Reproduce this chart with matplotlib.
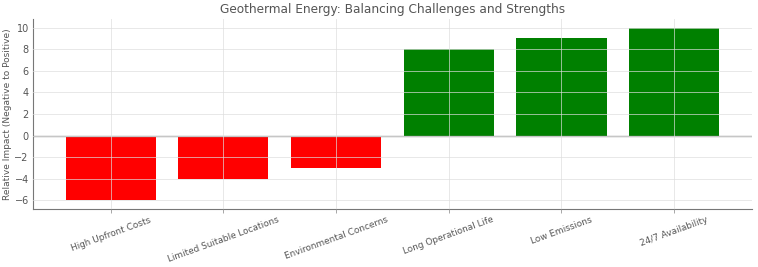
import matplotlib
matplotlib.use("Agg")
import matplotlib.pyplot as plt

categories = ['High Upfront Costs', 'Limited Suitable Locations', 'Environmental Concerns',
              'Long Operational Life', 'Low Emissions', '24/7 Availability']
impact = [-6, -4, -3, 8, 9, 10]
colors = ['red' if v < 0 else 'green' for v in impact]

text_color = '#555555'

fig, ax = plt.subplots(figsize=(7.58, 2.67), dpi=100)
fig.subplots_adjust(left=0.0435, right=0.992, top=0.929, bottom=0.217)

ax.bar(categories, impact, color=colors, width=0.8)
ax.axhline(0, color='#999999', linewidth=1)

# grid drawn over the bars, faint
ax.set_axisbelow(False)
ax.grid(True, color='#dddddd', linewidth=0.6, alpha=0.8)

ax.set_title('Geothermal Energy: Balancing Challenges and Strengths', fontsize=8.7,
             color=text_color, pad=4)
ax.set_ylabel('Relative Impact (Negative to Positive)', fontsize=6.5, color=text_color, labelpad=2)
ax.set_yticks([-6, -4, -2, 0, 2, 4, 6, 8, 10])
ax.tick_params(axis='x', labelsize=6.4, colors=text_color, length=3, width=0.6,
               color='#999999', pad=1.5)
ax.tick_params(axis='y', labelsize=7, colors=text_color, length=0, pad=3)
plt.setp(ax.get_xticklabels(), rotation=20)

for side in ['top', 'right']:
    ax.spines[side].set_visible(False)
for side in ['left', 'bottom']:
    ax.spines[side].set_color('#777777')
    ax.spines[side].set_linewidth(0.8)

plt.savefig('out.png', dpi=100)
